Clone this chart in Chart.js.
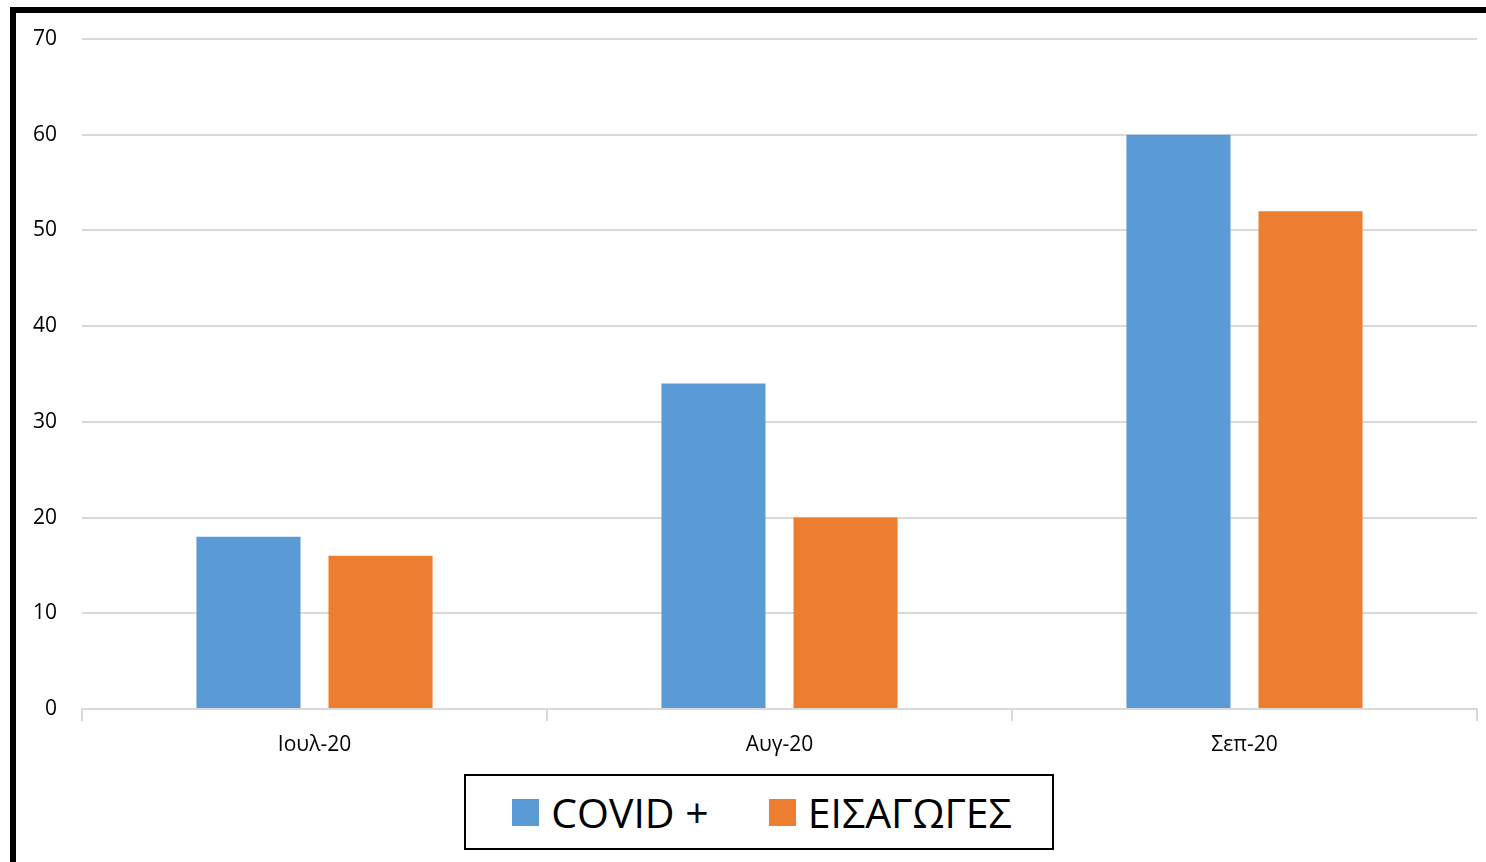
<!DOCTYPE html>
<html>
<head>
<meta charset="utf-8">
<script src="https://cdn.jsdelivr.net/npm/chart.js@4"></script>
<style>
  html, body { margin: 0; padding: 0; background: #fff; width: 1486px; height: 862px; overflow: hidden; }
  #frame { position: absolute; left: 10px; top: 7px; width: 1500px; height: 900px; border-left: 6px solid #000; border-top: 6px solid #000; }
  #wrap { position: absolute; left: 16px; top: 13px; width: 1470px; height: 756px; }
  #legend { position: absolute; left: 464px; top: 774px; width: 580px; padding-left: 6px; height: 72px; border: 2.5px solid #000;
            display: flex; align-items: center; justify-content: center; font-family: "Open Sans", sans-serif; font-size: 41px; color: #000; }
  .item { display: flex; align-items: center; margin: 0 30px; }
  .box { width: 27px; height: 27px; margin-right: 12px; }
</style>
</head>
<body>
<div id="frame"></div>
<div id="wrap"><canvas id="myChart"></canvas></div>
<div id="legend"></div>
<script>
const months = ["Ιουλ-20", "Αυγ-20", "Σεπ-20"];
const covidPos = [18, 34, 60];
const admissions = [16, 20, 52];
const seriesNames = ["COVID +", "ΕΙΣΑΓΩΓΕΣ"];
const seriesColors = ["#5B9BD5", "#ED7D31"];

const tickFont = { family: "'Open Sans', sans-serif", size: 21 };

var ctx = document.getElementById("myChart").getContext("2d");
window.myChart = new Chart(ctx, {
    type: 'bar',
    data: {
        labels: months,
        datasets: [{
            label: seriesNames[0],
            data: covidPos,
            backgroundColor: seriesColors[0],
            categoryPercentage: 0.568,
            barPercentage: 0.788,
        }, {
            label: seriesNames[1],
            data: admissions,
            backgroundColor: seriesColors[1],
            categoryPercentage: 0.568,
            barPercentage: 0.788,
        }]
    },
    options: {
        responsive: true,
        maintainAspectRatio: false,
        animation: false,
        layout: { padding: { top: 26, right: 9, left: 0, bottom: 0 } },
        plugins: { legend: { display: false }, tooltip: { enabled: false } },
        scales: {
            x: {
                grid: { drawOnChartArea: false, color: '#d9d9d9', tickLength: 12, lineWidth: 2 },
                border: { color: '#d9d9d9', width: 2 },
                ticks: { color: '#000', font: tickFont, padding: 11 },
                afterFit: function(scale) { scale.height = 60; }
            },
            y: {
                min: 0,
                max: 70,
                ticks: { stepSize: 10, color: '#000', font: tickFont, padding: 25 },
                grid: { color: '#d9d9d9', lineWidth: 2, drawTicks: false },
                border: { display: false },
                afterFit: function(scale) {
                    scale.width = 66;
                    scale.paddingTop = 0;   // tick padding was pushing the plot down
                    scale.paddingBottom = 0;
                }
            }
        }
    }
});

// legend with a frame, built from the same series arrays
const legendDiv = document.getElementById("legend");
for (let i = 0; i < seriesNames.length; i++) {
    const item = document.createElement("div");
    item.className = "item";
    const box = document.createElement("span");
    box.className = "box";
    box.style.background = seriesColors[i];
    const txt = document.createElement("span");
    txt.textContent = seriesNames[i];
    item.appendChild(box);
    item.appendChild(txt);
    legendDiv.appendChild(item);
}
</script>
</body>
</html>
